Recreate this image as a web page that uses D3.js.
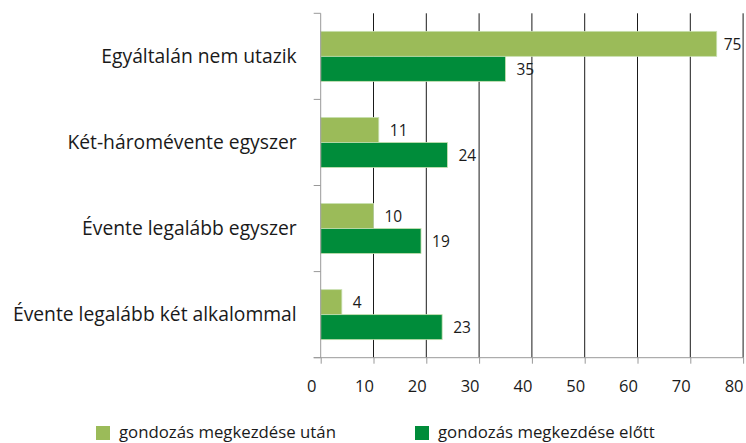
<!DOCTYPE html>
<html><head><meta charset="utf-8">
<script src="https://cdn.jsdelivr.net/npm/d3@7"></script>
<style>
body{margin:0;background:#fff;}
text{font-family:"Open Sans",sans-serif;fill:#1a1a1a;}
</style></head>
<body><svg id="c" width="746" height="443"></svg>
<script>
const categories = ["Egyáltalán nem utazik","Két-háromévente egyszer","Évente legalább egyszer","Évente legalább két alkalommal"];
const seriesNames = ["gondozás megkezdése után","gondozás megkezdése előtt"];
const afterValues = [75, 11, 10, 4];
const beforeValues = [35, 24, 19, 23];
const xTicks = [0,10,20,30,40,50,60,70,80];
const colors = ["#9bbb59","#008c3a"];

const svg = d3.select("#c");
const m = {l:320.7, r:743.1, t:13.3, b:357.7};
const x = d3.scaleLinear().domain([0,80]).range([m.l, m.r]);
const y = d3.scaleBand().domain(categories).range([m.t, m.b]).paddingInner(0).paddingOuter(0);
const inner = d3.scaleBand().domain([0,1]).range([0, 50]);
const bandPad = (y.bandwidth()-50)/2;

// gridlines
svg.append("g").selectAll("line").data(xTicks.slice(1)).join("line")
  .attr("x1", d=>x(d)).attr("x2", d=>x(d)).attr("y1", m.t).attr("y2", m.b)
  .attr("stroke","#1a1a1a").attr("stroke-width",1);

// bars
const data = [];
categories.forEach((c,i)=>{
  data.push({c, s:0, v:afterValues[i]});
  data.push({c, s:1, v:beforeValues[i]});
});
svg.append("g").selectAll("rect").data(data).join("rect")
  .attr("x", x(0)).attr("y", d=>y(d.c)+bandPad+inner(d.s))
  .attr("width", d=>x(d.v)-x(0)).attr("height", inner.bandwidth())
  .attr("fill", d=>colors[d.s]).attr("stroke","#c8e0b0").attr("stroke-width",0.8);

// value labels
svg.append("g").selectAll("text").data(data).join("text")
  .attr("x", d=>x(d.v)+(d.v>=70?7:11)).attr("y", d=>y(d.c)+bandPad+inner(d.s)+inner.bandwidth()/2+2)
  .attr("dominant-baseline","middle").style("font-size","15.5px")
  .text(d=>d.v);

// x axis
const xa = svg.append("g").attr("transform",`translate(0,${m.b})`)
  .call(d3.axisBottom(x).tickValues(xTicks).tickSize(6).tickPadding(17).tickFormat(d3.format("d")));
xa.select(".domain").attr("stroke","#999").attr("d",`M${m.l-7},0H${m.r}`);
xa.selectAll(".tick line").attr("stroke","#999");
xa.selectAll(".tick text").attr("x",-9.5).style("font-size","16.5px").attr("fill","#1a1a1a").style("font-family","'Open Sans',sans-serif");

// y axis
const ya = svg.append("g").attr("transform",`translate(${m.l},0)`);
ya.append("line").attr("x1",0).attr("x2",0).attr("y1",m.t).attr("y2",m.b).attr("stroke","#999");
const bounds = [m.t, ...categories.map(c=>y(c)+y.bandwidth())];
ya.selectAll("line.t").data(bounds).join("line").attr("class","t")
  .attr("x1",-7).attr("x2",0).attr("y1",d=>d).attr("y2",d=>d).attr("stroke","#999");
ya.selectAll("text").data(categories).join("text")
  .attr("x",-24).attr("y",d=>y(d)+y.bandwidth()/2+1)
  .attr("text-anchor","end").attr("dominant-baseline","middle").style("font-size","19.3px")
  .text(d=>d);

// legend
const lx = [96, 415];
const lg = svg.append("g").selectAll("g").data(seriesNames).join("g")
  .attr("transform",(d,i)=>`translate(${lx[i]},426)`);
lg.append("rect").attr("width",14).attr("height",14).attr("fill",(d,i)=>colors[i]);
lg.append("text").attr("x",23).attr("y",7.5).attr("dominant-baseline","middle")
  .style("font-size","16.8px").text(d=>d);
</script></body></html>
